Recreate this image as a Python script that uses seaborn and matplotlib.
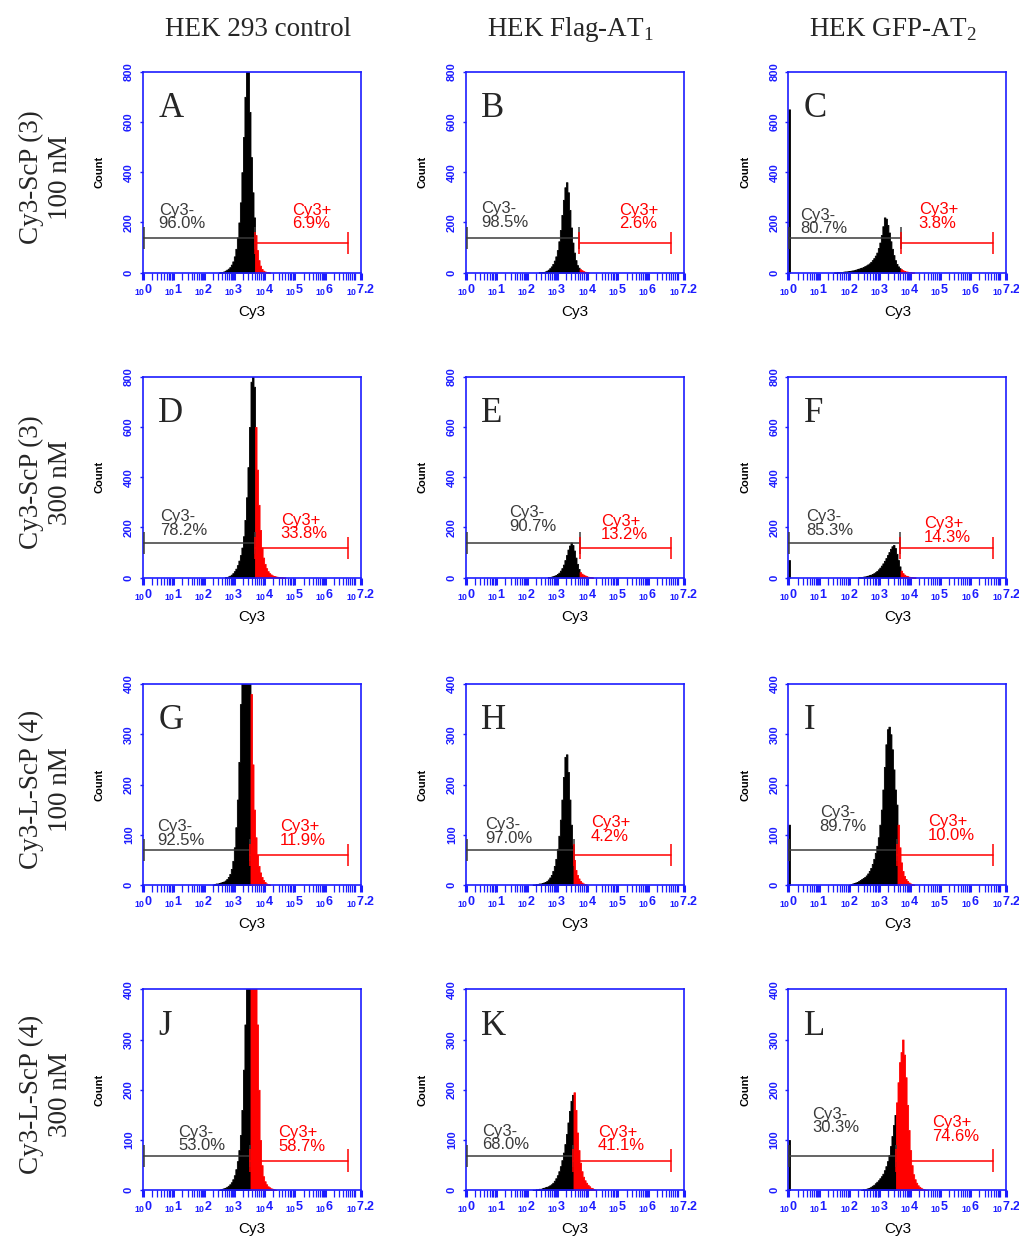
import numpy as np
import pandas as pd
import matplotlib
matplotlib.use('Agg')
import matplotlib.pyplot as plt
import seaborn as sns

# ---- data ----
col_titles = ['HEK 293 control', r'HEK Flag-AT$_\mathregular{1}$', r'HEK GFP-AT$_\mathregular{2}$']
row_titles = ['Cy3-ScP (3)\n100 nM', 'Cy3-ScP (3)\n300 nM',
              'Cy3-L-ScP (4)\n100 nM', 'Cy3-L-ScP (4)\n300 nM']
letters = ['A', 'B', 'C', 'D', 'E', 'F', 'G', 'H', 'I', 'J', 'K', 'L']
neg_pct = ['96.0%', '98.5%', '80.7%', '78.2%', '90.7%', '85.3%',
           '92.5%', '97.0%', '89.7%', '53.0%', '68.0%', '30.3%']
pos_pct = ['6.9%', '2.6%', '3.8%', '33.8%', '13.2%', '14.3%',
           '11.9%', '4.2%', '10.0%', '58.7%', '41.1%', '74.6%']
# gate boundary (log10 Cy3) between Cy3- and Cy3+
gate = [3.71, 3.74, 3.70, 3.69, 3.75, 3.69, 3.55, 3.57, 3.60, 3.55, 3.54, 3.56]
gate_end = 6.77
y_max = [800, 800, 800, 800, 800, 800, 400, 400, 400, 400, 400, 400]
# events piled up in the very first channel (10^0)
zero_bin = [0, 0, 650, 0, 0, 70, 0, 0, 120, 0, 0, 100]

# histograms: bins of 0.05 decade, lo_* = first bin edge (log10 Cy3)
bin_w = 0.05
lo_A = 2.5
counts_A = [1, 2, 3, 5, 8, 12, 16, 22, 32, 45, 65, 95, 140, 200, 280, 400, 540, 700,
            850, 820, 640, 460, 320, 220, 150, 90, 50, 28, 15, 8, 5, 3, 2, 1]
lo_B = 2.4
counts_B = [2, 2, 3, 3, 5, 8, 12, 18, 25, 35, 48, 65, 90, 125, 170, 230, 290, 340,
            360, 320, 250, 180, 120, 80, 50, 30, 20, 14, 10, 6, 4, 2, 1]
lo_C = 1.5
counts_C = [1, 1, 2, 2, 3, 3, 4, 5, 5, 6, 7, 8, 9, 10, 12, 14, 16, 18, 20, 23, 26, 29,
            33, 37, 43, 50, 58, 68, 80, 98, 120, 150, 185, 220, 215, 190, 160, 125, 95,
            70, 50, 35, 25, 18, 14, 10, 7, 5, 4, 3, 2, 1, 1]
lo_D = 2.7
counts_D = [2, 3, 5, 8, 12, 18, 26, 36, 50, 68, 90, 120, 165, 230, 320, 440, 600, 780,
            880, 760, 600, 430, 290, 190, 120, 80, 55, 38, 26, 18, 13, 9, 7, 5, 4, 3,
            2, 2, 1, 1]
lo_E = 2.7
counts_E = [2, 3, 4, 6, 8, 11, 15, 20, 28, 38, 52, 70, 90, 112, 128, 140, 130, 108,
            80, 55, 35, 22, 16, 12, 9, 6, 4, 3, 2, 1]
lo_F = 2.3
counts_F = [2, 2, 3, 4, 5, 6, 8, 10, 12, 15, 18, 22, 27, 33, 40, 48, 57, 67, 78, 90,
            102, 115, 125, 130, 118, 95, 70, 45, 28, 18, 12, 8, 6, 4, 3, 2, 1, 1]
lo_G = 2.3
counts_G = [1, 2, 3, 3, 4, 5, 6, 7, 9, 12, 16, 22, 32, 48, 75, 115, 170, 245, 360,
            430, 480, 500, 470, 440, 420, 380, 240, 150, 95, 60, 38, 25, 16, 10, 6, 3,
            2, 1]
lo_H = 2.2
counts_H = [1, 1, 2, 2, 3, 3, 4, 5, 6, 8, 11, 15, 20, 28, 38, 52, 72, 98, 130, 170,
            215, 255, 260, 225, 170, 120, 80, 50, 30, 20, 13, 8, 5, 3, 2, 1]
lo_I = 2.0
counts_I = [1, 2, 3, 4, 5, 6, 8, 10, 12, 14, 16, 19, 23, 28, 34, 42, 52, 64, 78, 95,
            120, 150, 190, 235, 280, 310, 315, 300, 270, 230, 190, 160, 120, 75, 45,
            28, 18, 12, 8, 5, 3, 2, 1]
lo_J = 2.5
counts_J = [1, 2, 3, 4, 5, 7, 9, 12, 16, 22, 30, 42, 58, 80, 110, 160, 240, 330, 430,
            520, 600, 640, 620, 560, 470, 330, 200, 100, 50, 28, 18, 12, 8, 6, 4, 3,
            2, 1]
lo_K = 2.2
counts_K = [1, 1, 2, 2, 3, 3, 4, 5, 6, 7, 8, 10, 12, 15, 19, 24, 30, 38, 48, 60, 75,
            92, 112, 135, 158, 178, 190, 195, 160, 115, 80, 55, 38, 27, 20, 15, 11, 8,
            5, 4, 2, 1]
lo_L = 2.4
counts_L = [1, 2, 2, 3, 4, 5, 7, 9, 11, 14, 17, 20, 24, 28, 33, 40, 48, 58, 70, 88,
            108, 130, 150, 175, 215, 255, 275, 300, 270, 225, 170, 120, 80, 50, 32,
            22, 15, 10, 7, 5, 3, 2, 1, 1]

hist_lo = [lo_A, lo_B, lo_C, lo_D, lo_E, lo_F, lo_G, lo_H, lo_I, lo_J, lo_K, lo_L]
hist_counts = [counts_A, counts_B, counts_C, counts_D, counts_E, counts_F,
               counts_G, counts_H, counts_I, counts_J, counts_K, counts_L]

x_tick_pos = [0, 1, 2, 3, 4, 5, 6, 7.2]
x_tick_exp = ['0', '1', '2', '3', '4', '5', '6', '7.2']
y_ticks_800 = [0, 200, 400, 600, 800]
y_ticks_400 = [0, 100, 200, 300, 400]

# ---- layout (pixels of the 1020x1236 picture) ----
W, H = 1020, 1236
col_left = [143, 466, 788.5]
ax_w = 218
row_top = [71.7, 376.7, 684.0, 989.3]
ax_h = 201.0
# label anchors (x in log10 units, y in counts)
neg_xy = [(0.52, 222), (0.49, 228), (0.39, 202), (0.57, 215), (1.42, 231), (0.58, 215),
          (0.46, 103), (0.64, 107), (1.03, 130), (1.17, 102), (0.52, 104), (0.78, 138)]
pos_xy = [(4.92, 222), (5.05, 222), (4.30, 225), (4.55, 202), (4.45, 198), (4.48, 188),
          (4.52, 102), (4.12, 110), (4.60, 112), (4.46, 101), (4.36, 102), (4.75, 121)]

blue = '#1c1cff'
grey = '#3a3a3a'
sns.set_style('white')
plt.rcParams['font.family'] = ['Liberation Sans', 'DejaVu Sans']
plt.rcParams['mathtext.fontset'] = 'custom'
plt.rcParams['axes.grid'] = False


def hist_part(ax, mids, counts, edges, colour):
    df = pd.DataFrame({'cy3': mids, 'n': counts})
    sns.histplot(data=df, x='cy3', weights='n', bins=list(edges), color=colour,
                 element='step', fill=True, alpha=1, linewidth=0.6, edgecolor=colour,
                 snap=False, zorder=2.6, ax=ax)


fig = plt.figure(figsize=(W / 100, H / 100), dpi=100)

for i in range(12):
    r, c = divmod(i, 3)
    ax = fig.add_axes([col_left[c] / W, 1 - (row_top[r] + ax_h) / H, ax_w / W, ax_h / H])
    ax.grid(False, which='both')

    counts = np.array(hist_counts[i], dtype=float)
    edges = hist_lo[i] + bin_w * np.arange(len(counts) + 1)
    mids = edges[:-1] + bin_w / 2
    k = int((mids < gate[i]).sum())
    hist_part(ax, mids[:k], counts[:k], edges[:k + 1], 'black')
    hist_part(ax, mids[k:], counts[k:], edges[k:], 'red')
    if zero_bin[i]:
        hist_part(ax, [0.025], [zero_bin[i]], [0, 0.05], 'black')

    ym = y_max[i]
    ax.set_xlim(0, 7.2)
    ax.set_ylim(0, ym)

    # gates
    cap = ym * 0.055
    yb, yr = ym * 0.172, ym * 0.148
    ax.plot([0, gate[i]], [yb, yb], color=grey, lw=1.1, zorder=3)
    ax.vlines([0.02, gate[i]], yb - cap, yb + cap, color=grey, lw=1.1, zorder=3)
    ax.plot([gate[i], gate_end], [yr, yr], color='red', lw=1.1, zorder=3)
    ax.vlines([gate[i], gate_end], yr - cap, yr + cap, color='red', lw=1.1, zorder=3)
    ax.text(neg_xy[i][0], neg_xy[i][1], 'Cy3-\n' + neg_pct[i], color=grey,
            fontsize=12, ha='left', va='center', linespacing=0.9, zorder=4)
    ax.text(pos_xy[i][0], pos_xy[i][1], 'Cy3+\n' + pos_pct[i], color='red',
            fontsize=12, ha='left', va='center', linespacing=0.9, zorder=4)

    ax.text(0.07, 0.775, letters[i], transform=ax.transAxes, fontsize=25,
            family='Liberation Serif', ha='left', va='baseline', zorder=4)

    # axes styling
    for s in ax.spines.values():
        s.set_color(blue)
        s.set_linewidth(1.2)
        s.set_zorder(2.7)
    ax.set_xticks(x_tick_pos)
    ax.set_xticklabels([r'$_{\mathregular{10}}\mathregular{%s}$' % e for e in x_tick_exp])
    minor = [d + np.log10(k) for d in range(7) for k in range(2, 11)]
    ax.set_xticks(minor, minor=True)
    ax.tick_params(axis='x', which='major', direction='out', length=5, width=2.2,
                   color=blue, labelcolor=blue, labelsize=9, pad=2, bottom=True, top=False)
    ax.tick_params(axis='x', which='minor', direction='out', length=5, width=0.9,
                   color=blue, bottom=True, top=False)
    ax.set_yticks(y_ticks_800 if ym == 800 else y_ticks_400)
    ax.tick_params(axis='y', direction='out', length=2.5, width=1, color=blue,
                   labelcolor=blue, labelsize=8, pad=4, left=True, labelrotation=90)
    for lab in ax.get_yticklabels():
        lab.set_va('center')
        lab.set_fontweight('bold')
    for lab in ax.get_xticklabels():
        lab.set_fontweight('bold')

    ax.set_ylabel('Count', fontsize=8, fontweight='bold', color='black')
    ax.yaxis.set_label_coords(-38 / ax_w, 0.5)
    ax.set_xlabel('Cy3', fontsize=11, color='black')
    ax.xaxis.set_label_coords(0.5, -39 / ax_h)
    ax.xaxis.label.set_va('center')

for c, t in enumerate(col_titles):
    fig.text([258, 570, 893][c] / W, 1 - 30 / H, t, family='Liberation Serif',
             fontsize=19.5, ha='center', va='center')
for r, t in enumerate(row_titles):
    fig.text(46 / W, 1 - (row_top[r] + ax_h / 2 + 5) / H, t, family='Liberation Serif',
             fontsize=19.5, rotation=90, ha='center', va='center',
             multialignment='center', linespacing=1.25)

fig.savefig('out.png', dpi=100)
